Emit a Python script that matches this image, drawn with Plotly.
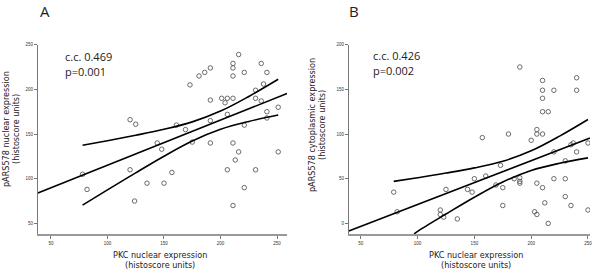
import plotly.graph_objects as go

W, H = 600, 274

# ---------------- Panel A data ----------------
a_x = [78, 82, 120, 125, 120, 124, 135, 144, 148, 150, 157, 161, 169, 173, 175, 181,
       186, 191, 191, 191, 191, 201, 206, 211, 204, 206, 206, 211, 211, 211, 211, 211,
       213, 216, 216, 221, 221, 221, 231, 231, 231, 236, 236, 238, 241, 241, 241, 251, 251]
a_y = [105, 88, 166, 161, 110, 75, 95, 140, 133, 95, 107, 160, 155, 205, 141, 215,
       219, 224, 188, 165, 140, 190, 190, 190, 185, 172, 110, 229, 224, 215, 140, 70,
       121, 239, 130, 219, 160, 90, 199, 190, 110, 229, 187, 206, 219, 175, 168, 180, 130]
a_fit_x = [38.5, 258.8]
a_fit_y = [84.0, 195.3]
a_ci_x = [78, 100, 125, 150, 175, 200, 225, 251]
a_ci_hi = [137.4, 142.5, 148.6, 155.3, 163.6, 175.7, 192.1, 211.3]
a_ci_lo = [70.4, 87.5, 106.6, 125.2, 142.2, 155.3, 164.1, 171.3]

# ---------------- Panel B data ----------------
b_x = [79, 82, 120, 120, 123, 125, 135, 144, 148, 150, 157, 160, 169, 173, 175, 175,
       180, 185, 190, 190, 190, 190, 200, 203, 205, 205, 205, 205, 210, 210, 210, 210,
       210, 210, 212, 215, 215, 220, 220, 220, 230, 230, 230, 235, 235, 237, 240, 240,
       240, 250, 250]
b_y = [35, 13, 15, 10, 7, 38, 5, 38, 35, 50, 96, 53, 43, 65, 40, 20,
       100, 50, 175, 51, 47, 45, 93, 13, 10, 105, 100, 45, 160, 149, 140, 125,
       100, 40, 23, 125, 0, 149, 80, 50, 70, 50, 30, 88, 20, 90, 163, 149,
       80, 90, 15]
b_fit_x = [39.5, 251.8]
b_fit_y = [-8.6, 95.6]
b_hi_x = [79, 100, 125, 150, 175, 200, 225, 250]
b_ci_hi = [47.0, 51.1, 56.3, 62.1, 69.5, 81.2, 97.7, 116.3]
b_lo_x = [97, 100, 125, 150, 175, 200, 225, 250]
b_ci_lo = [-11.8, -8.9, 10.5, 29.3, 46.3, 59.2, 67.3, 73.3]

x_ticks = [50, 100, 150, 200, 250]
a_y_ticks = [50, 100, 150, 200, 250]
b_y_ticks = [0, 50, 100, 150, 200]

# pixel geometry
def px(x):
    return x / W

def py(y):
    return 1 - y / H

fig = go.Figure()

marker = dict(symbol="circle-open", size=4.5, color="#5a5a5a", line=dict(width=0.9, color="#5a5a5a"))
line_style = dict(color="black", width=1.6)

fig.add_trace(go.Scatter(x=a_x, y=a_y, mode="markers", marker=marker, xaxis="x", yaxis="y", showlegend=False))
fig.add_trace(go.Scatter(x=a_fit_x, y=a_fit_y, mode="lines", line=line_style, xaxis="x", yaxis="y", showlegend=False))
fig.add_trace(go.Scatter(x=a_ci_x, y=a_ci_hi, mode="lines", line=dict(shape="spline", **line_style), xaxis="x", yaxis="y", showlegend=False))
fig.add_trace(go.Scatter(x=a_ci_x, y=a_ci_lo, mode="lines", line=dict(shape="spline", **line_style), xaxis="x", yaxis="y", showlegend=False))

fig.add_trace(go.Scatter(x=b_x, y=b_y, mode="markers", marker=marker, xaxis="x2", yaxis="y2", showlegend=False))
fig.add_trace(go.Scatter(x=b_fit_x, y=b_fit_y, mode="lines", line=line_style, xaxis="x2", yaxis="y2", showlegend=False))
fig.add_trace(go.Scatter(x=b_hi_x, y=b_ci_hi, mode="lines", line=dict(shape="spline", **line_style), xaxis="x2", yaxis="y2", showlegend=False))
fig.add_trace(go.Scatter(x=b_lo_x, y=b_ci_lo, mode="lines", line=dict(shape="spline", **line_style), xaxis="x2", yaxis="y2", showlegend=False))

tickfont = dict(family="Liberation Sans", size=4.5, color="#333")
ydom = [py(234), py(43)]

def xaxis_cfg(rng, dom, anchor):
    return dict(domain=dom, range=rng, anchor=anchor, tickvals=x_ticks, ticks="outside",
                ticklen=3, tickwidth=1, tickcolor="#777", showline=True, linecolor="#999",
                linewidth=2, showgrid=False, zeroline=False, tickfont=tickfont, fixedrange=True)

def yaxis_cfg(rng, anchor, tv):
    return dict(domain=ydom, range=rng, anchor=anchor, tickvals=tv, ticks="outside",
                ticklen=3, tickwidth=1, tickcolor="#777", showline=True, linecolor="#777",
                linewidth=1, showgrid=False, zeroline=False, tickfont=tickfont, fixedrange=True)

fig.update_layout(
    width=W, height=H,
    margin=dict(l=0, r=0, t=0, b=0),
    paper_bgcolor="white", plot_bgcolor="white",
    hovermode=False,
    xaxis=xaxis_cfg([38.5, 258.8], [px(38), px(288)], "y"),
    yaxis=yaxis_cfg([37.8, 250], "x", a_y_ticks),
    xaxis2=xaxis_cfg([39.5, 251.8], [px(350), px(592)], "y2"),
    yaxis2=yaxis_cfg([-12.2, 200], "x2", b_y_ticks),
)

title_font = dict(family="Liberation Sans Narrow, DejaVu Sans Condensed, Liberation Sans", size=9, color="#222")
stat_font = dict(family="Open Sans, Liberation Sans", size=11, color="#222")
letter_font = dict(family="Open Sans, Liberation Sans", size=15, color="#222")

annos = [
    dict(text="A", x=px(45), y=py(9), font=letter_font),
    dict(text="B", x=px(355), y=py(9), font=letter_font),
    dict(text="c.c. 0.469", x=px(63), y=py(55), xanchor="left", font=stat_font),
    dict(text="p=0.001", x=px(63), y=py(70), xanchor="left", font=stat_font),
    dict(text="c.c. 0.426", x=px(372), y=py(54), xanchor="left", font=stat_font),
    dict(text="p=0.002", x=px(372), y=py(69), xanchor="left", font=stat_font),
    dict(text="PKC nuclear expression", x=px(161), y=py(255), font=title_font),
    dict(text="(histoscore units)", x=px(161), y=py(265), font=title_font),
    dict(text="PKC nuclear expression", x=px(478), y=py(255), font=title_font),
    dict(text="(histoscore units)", x=px(478), y=py(265), font=title_font),
    dict(text="pARS578 nuclear expression", x=px(6), y=py(128), textangle=-90, font=title_font),
    dict(text="(histoscore units)", x=px(16), y=py(128), textangle=-90, font=title_font),
    dict(text="pARS578 cytoplasmic expression", x=px(313), y=py(124), textangle=-90, font=title_font),
    dict(text="(histoscore units)", x=px(323), y=py(124), textangle=-90, font=title_font),
]
for a in annos:
    a.setdefault("xanchor", "center")
    a.setdefault("yanchor", "middle")
    fig.add_annotation(xref="paper", yref="paper", showarrow=False, **a)

fig.write_html("out.html", config={"displayModeBar": False, "staticPlot": True},
               post_script="document.body.style.margin='0';document.body.style.overflow='hidden';")
